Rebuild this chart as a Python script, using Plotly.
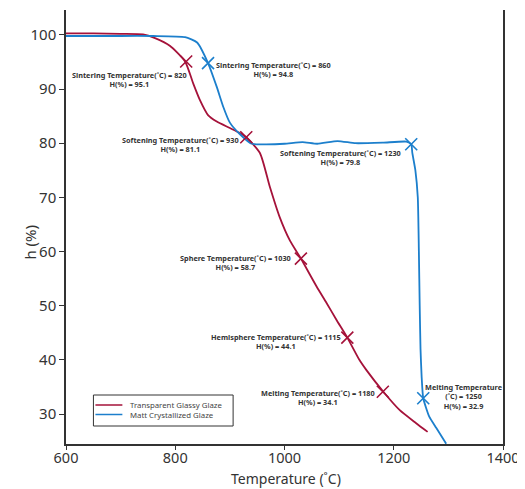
import plotly.graph_objects as go

# Transparent Glassy Glaze
glassy_T = [600, 650, 700, 741, 763, 790, 818, 833, 845, 860, 876, 900, 918, 930,
            955, 973, 991, 1010, 1030, 1059, 1077, 1095, 1115, 1137, 1150, 1181,
            1211, 1241, 1262]
glassy_H = [100.3, 100.3, 100.2, 100.1, 99.4, 98.0, 95.1, 91.0, 88.0, 85.2, 84.0,
            82.8, 81.9, 81.1, 78.2, 72.0, 66.4, 62.0, 58.7, 53.5, 50.5, 47.4,
            44.1, 40.0, 38.1, 34.1, 30.7, 28.3, 26.7]

# Matt Crystallized Glaze
matt_T = [600, 650, 700, 760, 818, 840, 860, 876, 888, 900, 918, 940, 960, 1000,
          1033, 1060, 1097, 1130, 1180, 1223, 1232, 1234, 1239.6, 1244, 1246,
          1247.5, 1249, 1251, 1254, 1265, 1278, 1296]
matt_H = [99.8, 99.8, 99.8, 99.8, 99.6, 98.6, 94.8, 90.4, 86.7, 83.8, 81.7, 79.9,
          79.8, 79.9, 80.2, 79.9, 80.4, 80.0, 80.1, 80.3, 79.8, 78.2, 75.0, 70.0,
          60.0, 50.0, 42.0, 37.0, 32.9, 29.5, 27.4, 24.5]

# key points
glassy_pts_T = [820, 930, 1030, 1115, 1180]
glassy_pts_H = [95.1, 81.1, 58.7, 44.1, 34.1]
matt_pts_T = [860, 1232, 1254]
matt_pts_H = [94.8, 79.8, 32.9]

labels = [
    "Sintering Temperature(˚C) = 820<br>H(%) = 95.1",
    "Sintering Temperature(˚C) = 860<br>H(%) = 94.8",
    "Softening Temperature(˚C) = 930<br>H(%) = 81.1",
    "Softening Temperature(˚C) = 1230<br>H(%) = 79.8",
    "Sphere Temperature(˚C) = 1030<br>H(%) = 58.7",
    "Hemisphere Temperature(˚C) = 1115<br>H(%) = 44.1",
    "Melting Temperature(˚C) = 1180<br>H(%) = 34.1",
    "Melting Temperature<br>(˚C) = 1250<br>H(%) = 32.9",
]
label_x = [716.8, 980, 809, 1102.6, 911, 985, 1061.6, 1329]
label_y = [91.7, 93.6, 79.7, 77.3, 57.9, 43.3, 33.05, 33.3]

series_names = ["Transparent Glassy Glaze", "Matt Crystallized Glaze"]
x_title = "Temperature (˚C)"
y_title = "h (%)"

RED = "#A5123A"
BLUE = "#1C7FCC"
FONT = "Noto Sans"

# the page body adds an 8px offset; all layout pixels below are screen pixels
OFF = 8
FIG_W, FIG_H = 525 - OFF, 489 - OFF
PL, PR, PT, PB = 65.5, 503.5, 10, 444   # plot area on screen

fig = go.Figure()
fig.add_trace(go.Scatter(x=glassy_T, y=glassy_H, mode="lines", name=series_names[0],
                         line=dict(color=RED, width=1.8, shape="spline", smoothing=0.6)))
fig.add_trace(go.Scatter(x=matt_T, y=matt_H, mode="lines", name=series_names[1],
                         line=dict(color=BLUE, width=1.8, shape="spline", smoothing=0.5)))
fig.add_trace(go.Scatter(x=glassy_pts_T, y=glassy_pts_H, mode="markers", showlegend=False,
                         marker=dict(symbol="x-thin", size=12, line=dict(color=RED, width=1.6))))
fig.add_trace(go.Scatter(x=matt_pts_T, y=matt_pts_H, mode="markers", showlegend=False,
                         marker=dict(symbol="x-thin", size=12, line=dict(color=BLUE, width=1.6))))

for t, x, y in zip(labels, label_x, label_y):
    fig.add_annotation(x=x, y=y, text=t, showarrow=False, xanchor="center", yanchor="middle",
                       align="center",
                       font=dict(family=FONT, size=7.3, color="#333333", weight="bold"))

W, H = PR - PL, PB - PT
def px(xp):
    return (xp - PL) / W
def py(yp):
    return (PB - yp) / H

# compact legend box
fig.add_shape(type="rect", xref="paper", yref="paper",
              x0=px(93), x1=px(233), y0=py(426), y1=py(395),
              line=dict(color="#333333", width=1), fillcolor="white", layer="above")
for i, (nm, col) in enumerate(zip(series_names, [RED, BLUE])):
    yy = 405 + 9.5 * i
    fig.add_shape(type="line", xref="paper", yref="paper",
                  x0=px(95), x1=px(122), y0=py(yy), y1=py(yy),
                  line=dict(color=col, width=1.5), layer="above")
    fig.add_annotation(xref="paper", yref="paper", x=px(128), y=py(yy), text=nm,
                       showarrow=False, xanchor="left", yanchor="middle",
                       font=dict(family=FONT, size=7.8, color="#444444"))

# axis titles
fig.add_annotation(xref="paper", yref="paper", x=px(29), y=py(242), text=y_title,
                   textangle=-90, showarrow=False, xanchor="center", yanchor="middle",
                   font=dict(family=FONT, size=15, color="#333333"))
fig.add_annotation(xref="paper", yref="paper", x=px(286), y=py(479), text=x_title,
                   showarrow=False, xanchor="center", yanchor="middle",
                   font=dict(family=FONT, size=14, color="#333333"))

fig.update_layout(
    width=FIG_W, height=FIG_H,
    margin=dict(l=PL - OFF, r=FIG_W - (PR - OFF), t=PT - OFF, b=FIG_H - (PB - OFF)),
    paper_bgcolor="white", plot_bgcolor="white",
    font=dict(family=FONT, color="#333333"),
    showlegend=False,
    xaxis=dict(range=[600, 1400], tickvals=[600, 800, 1000, 1200, 1400],
               showgrid=False, zeroline=False, showline=True, linecolor="#333333",
               linewidth=1.5, ticks="outside", ticklen=4, tickcolor="#333333",
               tickfont=dict(size=14.5, color="#333333"), automargin=False,
               ticklabelstandoff=-4),
    yaxis=dict(range=[24.46, 104.6], tickvals=[30, 40, 50, 60, 70, 80, 90, 100],
               showgrid=False, zeroline=False, showline=True, linecolor="#333333",
               linewidth=1.5, mirror=True, ticks="outside", ticklen=5, tickcolor="#333333",
               tickfont=dict(size=15, color="#333333"), automargin=False),
)

fig.write_html("out.html")
